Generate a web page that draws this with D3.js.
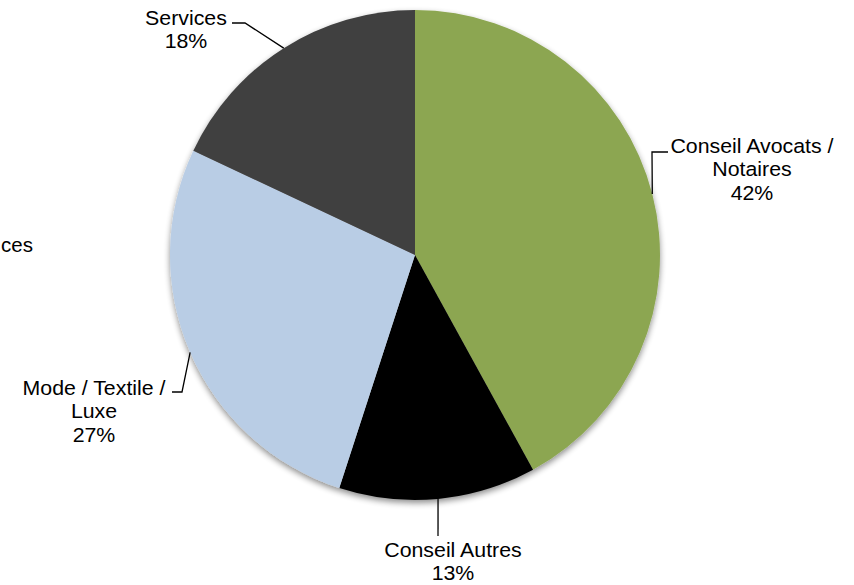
<!DOCTYPE html>
<html>
<head>
<meta charset="utf-8">
<script src="https://cdn.jsdelivr.net/npm/d3@7"></script>
<style>
  html, body { margin: 0; padding: 0; background: #ffffff; }
  svg { display: block; }
  text { font-family: "Liberation Sans", Arial, sans-serif; fill: #000; }
</style>
</head>
<body>
<svg id="chart" width="854" height="585"></svg>
<script>
// ---- data ----
const categories = ["Conseil Avocats / Notaires", "Conseil Autres", "Mode / Textile / Luxe", "Services"];
const labelLines = [["Conseil Avocats /", "Notaires"], ["Conseil Autres"], ["Mode / Textile /", "Luxe"], ["Services"]];
const values = [42, 13, 27, 18];
const colors = ["#8CA651", "#000000", "#B9CDE5", "#404040"];

// ---- layout ----
const W = 854, H = 585;
const cx = 415, cy = 255, R = 245;
const fontSize = 20.5;
const lineH = 23.5;

// label anchor (text centre x, first baseline y) and leader elbow points
const labelPos = [
  { x: 752, y: 153, elbow: [[652, 152], [668, 152]] },
  { x: 453, y: 557, elbow: [[438, 536]] },
  { x: 94,  y: 395, elbow: [[182, 392], [172, 392]] },
  { x: 186, y: 25,  elbow: [[245, 23], [232, 23]] }
];

const svg = d3.select("#chart");
const defs = svg.append("defs");
const f = defs.append("filter").attr("id", "shadow")
  .attr("x", "-10%").attr("y", "-10%").attr("width", "120%").attr("height", "120%");
f.append("feGaussianBlur").attr("in", "SourceAlpha").attr("stdDeviation", 3).attr("result", "b");
f.append("feOffset").attr("in", "b").attr("dx", 0).attr("dy", 3).attr("result", "o");
f.append("feComponentTransfer").attr("in", "o").attr("result", "s")
  .append("feFuncA").attr("type", "linear").attr("slope", 0.45);
const m = f.append("feMerge");
m.append("feMergeNode").attr("in", "s");
m.append("feMergeNode").attr("in", "SourceGraphic");

const pie = d3.pie().sort(null).value(d => d)(values);
const arc = d3.arc().innerRadius(0).outerRadius(R);

const g = svg.append("g").attr("transform", `translate(${cx},${cy})`);
const slices = g.append("g").attr("filter", "url(#shadow)");
slices.selectAll("path").data(pie).join("path")
  .attr("d", arc)
  .attr("fill", (d, i) => colors[i]);

// leader lines and labels
const total = d3.sum(values);
pie.forEach((d, i) => {
  const a = (d.startAngle + d.endAngle) / 2;
  const p0 = [cx + R * Math.sin(a), cy - R * Math.cos(a)];
  const pts = [p0].concat(labelPos[i].elbow);
  svg.append("path")
    .attr("d", d3.line()(pts))
    .attr("fill", "none")
    .attr("stroke", "#000")
    .attr("stroke-width", 1.3);
  const lp = labelPos[i];
  const t = svg.append("text")
    .attr("text-anchor", "middle")
    .attr("font-size", fontSize)
    .attr("transform", `translate(${lp.x},0) scale(1.04,1) translate(${-lp.x},0)`);
  const lines = labelLines[i].concat([Math.round(values[i] / total * 100) + "%"]);
  lines.forEach((s, k) => {
    t.append("tspan").attr("x", lp.x).attr("y", lp.y + k * lineH).text(s);
  });
});

// legend fragment at left edge
svg.append("text").attr("x", 1).attr("y", 252).attr("text-anchor", "start")
  .attr("font-size", fontSize).text("ces");
</script>
</body>
</html>
